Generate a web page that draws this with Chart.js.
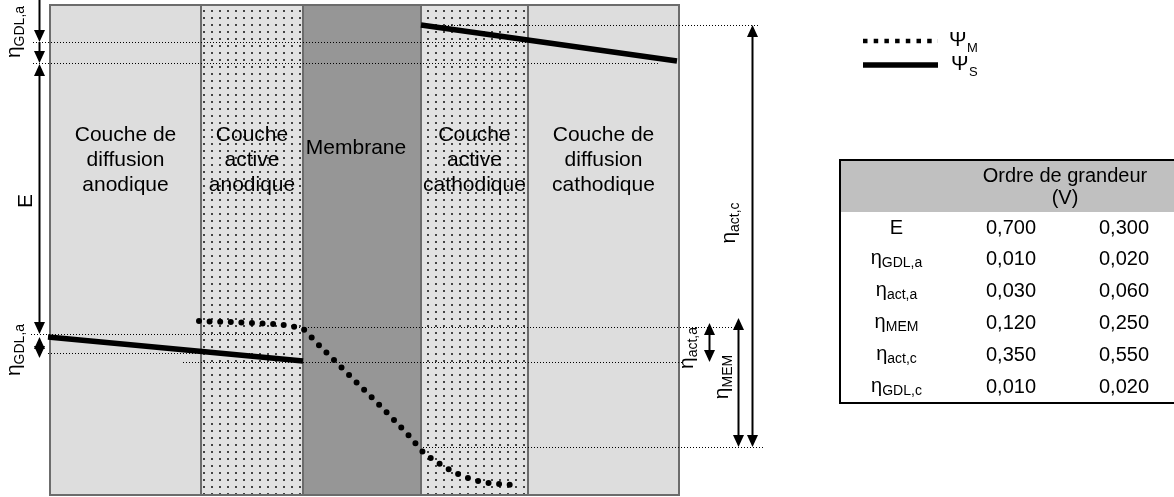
<!DOCTYPE html>
<html>
<head>
<meta charset="utf-8">
<script src="https://cdn.jsdelivr.net/npm/chart.js@4.4.1/dist/chart.umd.min.js"></script>
<style>
body { margin: 0; background: #fff; font-family: "Liberation Sans", Arial, sans-serif; }
#wrap { position: relative; width: 1174px; height: 497px; overflow: hidden; }
#c { position: absolute; left: 0; top: 0; }
#tbl { position: absolute; left: 839px; top: 159px; border-collapse: collapse; border: 2px solid #000; border-right: none; font-size: 20px; table-layout: fixed; width: 338px; }
#tbl td { padding: 0; text-align: center; height: 30px; line-height: 30px; white-space: nowrap; }
#tbl tr.head td { background: #c0c0c0; height: 48px; line-height: 22px; vertical-align: top; padding-top: 3px; }
#tbl .s { font-size: 14px; position: relative; top: 3px; }
</style>
</head>
<body>
<div id="wrap">
  <canvas id="c" width="1174" height="497"></canvas>
  <table id="tbl">
    <colgroup><col style="width:112px"><col style="width:118px"><col style="width:108px"></colgroup>
    <tbody id="tb"></tbody>
  </table>
</div>
<script>
// Couches de la cellule (position le long de l'épaisseur, unités arbitraires)
const layerBounds = [0, 151, 253, 371, 478, 629];
const layerKinds = ['gdl', 'act', 'mem', 'act', 'gdl'];
const layerLabels = [
    ['Couche de', 'diffusion', 'anodique'],
    ['Couche', 'active', 'anodique'],
    ['Membrane'],
    ['Couche', 'active', 'cathodique'],
    ['Couche de', 'diffusion', 'cathodique']
];

// Potentiel électronique Psi_S (anode puis cathode)
const psiSAnodeX = [-2, 253];
const psiSAnodeY = [158, 134];
const psiSCathodeX = [371, 627];
const psiSCathodeY = [470, 434];

// Potentiel ionique Psi_M
const psiMX = [149, 202, 234, 245, 256, 263, 286, 361, 372, 390, 408, 428, 449, 470];
const psiMY = [174, 172, 170, 168, 164, 156, 133, 57, 44, 31, 21, 14, 11, 10];

// Niveaux de potentiel repérés (lignes pointillées)
const guideY  = [470, 453, 432, 168, 161, 142, 133, 48];
const guideX0 = [371, -17, -17, 243, -19, -2, 133, 373];
const guideX1 = [710, 477, 608, 687, 243, 200, 632, 715];

// Flèches des surtensions : x, début, fin, têtes
const arrowX    = [-11, -11, -11, -11, 702, 688, 659];
const arrowFrom = [495, 453, 431, 158, 470, 177, 172];
const arrowTo   = [453, 432, 161, 137, 48, 48, 133];
const arrowHead = ['end', 'end', 'both', 'both', 'both', 'both', 'both'];

// Étiquettes verticales
const tagMain = ['η', 'E', 'η', 'η', 'η', 'η'];
const tagSub  = ['GDL,a', '', 'GDL,a', 'act,c', 'MEM', 'act,a'];
const tagX    = [-30, -18, -30, 685, 678, 643];
const tagY    = [463, 294, 145, 272, 118, 147];

// Tableau des ordres de grandeur
const rowMain = ['E', 'η', 'η', 'η', 'η', 'η'];
const rowSub  = ['', 'GDL,a', 'act,a', 'MEM', 'act,c', 'GDL,c'];
const valLow  = [0.700, 0.010, 0.030, 0.120, 0.350, 0.010];
const valHigh = [0.300, 0.020, 0.060, 0.250, 0.550, 0.020];

const fmt = v => v.toFixed(3).replace('.', ',');
let html = '<tr class="head"><td></td><td colspan="2">Ordre de grandeur<br>(V)</td></tr>';
rowMain.forEach((m, i) => {
    html += '<tr><td>' + m + (rowSub[i] ? '<span class="s">' + rowSub[i] + '</span>' : '') +
        '</td><td>' + fmt(valLow[i]) + '</td><td>' + fmt(valHigh[i]) + '</td></tr>';
});
document.getElementById('tb').innerHTML = html;

const FONT = '"Liberation Sans", Arial, sans-serif';

function stipple(ctx) {
    const p = document.createElement('canvas');
    p.width = 8; p.height = 7;
    const g = p.getContext('2d');
    g.fillStyle = '#e2e2e2';
    g.fillRect(0, 0, 8, 7);
    g.fillStyle = '#444';
    g.fillRect(3, 3, 2, 2);
    return ctx.createPattern(p, 'repeat');
}

function drawArrow(ctx, x, y0, y1, heads) {
    const dir = y1 > y0 ? 1 : -1, L = 12, W = 5.5;
    ctx.beginPath();
    ctx.moveTo(x, heads === 'both' ? y0 + dir * L : y0);
    ctx.lineTo(x, y1 - dir * L);
    ctx.lineWidth = 2;
    ctx.strokeStyle = '#000';
    ctx.stroke();
    const tip = (ty, d) => {
        ctx.beginPath();
        ctx.moveTo(x, ty);
        ctx.lineTo(x - W, ty - d * L);
        ctx.lineTo(x + W, ty - d * L);
        ctx.closePath();
        ctx.fill();
    };
    ctx.fillStyle = '#000';
    tip(y1, dir);
    if (heads === 'both') tip(y0, -dir);
}

function subText(ctx, main, sub, x, y, size, subSize, drop) {
    ctx.font = size + 'px ' + FONT;
    const wm = ctx.measureText(main).width;
    ctx.font = subSize + 'px ' + FONT;
    const ws = sub ? ctx.measureText(sub).width : 0;
    const start = x - (wm + ws) / 2;
    ctx.font = size + 'px ' + FONT;
    ctx.fillText(main, start, y);
    if (sub) {
        ctx.font = subSize + 'px ' + FONT;
        ctx.fillText(sub, start + wm, y + drop);
    }
}

const cellPlugin = {
    id: 'cell',
    beforeDatasetsDraw(chart) {
        const { ctx, scales: { x, y }, chartArea: a } = chart;
        ctx.save();
        const pat = stipple(ctx);
        layerKinds.forEach((k, i) => {
            const x0 = x.getPixelForValue(layerBounds[i]);
            const x1 = x.getPixelForValue(layerBounds[i + 1]);
            ctx.fillStyle = k === 'gdl' ? '#dddddd' : k === 'mem' ? '#969696' : pat;
            ctx.fillRect(x0, a.top, x1 - x0, a.bottom - a.top);
        });
        ctx.strokeStyle = '#6c6c6c';
        ctx.lineWidth = 2;
        layerKinds.forEach((k, i) => {
            const x0 = x.getPixelForValue(layerBounds[i]);
            const x1 = x.getPixelForValue(layerBounds[i + 1]);
            ctx.strokeRect(x0, a.top, x1 - x0, a.bottom - a.top);
        });
        // noms des couches
        ctx.fillStyle = '#000';
        ctx.font = '21px ' + FONT;
        ctx.textAlign = 'center';
        ctx.textBaseline = 'middle';
        layerLabels.forEach((lines, i) => {
            let cx = x.getPixelForValue((layerBounds[i] + layerBounds[i + 1]) / 2);
            if (lines.length === 1) cx -= 6;
            const top = lines.length === 1 ? 347 : 360;
            lines.forEach((t, j) => ctx.fillText(t, cx, y.getPixelForValue(top - 25 * j)));
        });
        // niveaux pointillés
        ctx.strokeStyle = '#000';
        ctx.lineWidth = 1;
        ctx.setLineDash([1, 2]);
        guideY.forEach((v, i) => {
            const py = Math.round(y.getPixelForValue(v)) + 0.5;
            ctx.beginPath();
            ctx.moveTo(Math.round(x.getPixelForValue(guideX0[i])), py);
            ctx.lineTo(Math.round(x.getPixelForValue(guideX1[i])), py);
            ctx.stroke();
        });
        ctx.restore();
    },
    afterDatasetsDraw(chart) {
        const { ctx, scales: { x, y } } = chart;
        ctx.save();
        arrowX.forEach((v, i) => {
            drawArrow(ctx, Math.round(x.getPixelForValue(v)) + 0.5,
                y.getPixelForValue(arrowFrom[i]), y.getPixelForValue(arrowTo[i]), arrowHead[i]);
        });
        ctx.fillStyle = '#000';
        ctx.textAlign = 'left';
        ctx.textBaseline = 'alphabetic';
        tagMain.forEach((m, i) => {
            ctx.save();
            ctx.translate(x.getPixelForValue(tagX[i]), y.getPixelForValue(tagY[i]));
            ctx.rotate(-Math.PI / 2);
            subText(ctx, m, tagSub[i], 0, 0, 21, 14, 4);
            ctx.restore();
        });
        // légende
        const ds = chart.data.datasets;
        const items = [ds[0], ds[1]];
        const subs = ['M', 'S'];
        items.forEach((d, i) => {
            const ly = 41 + 24 * i;
            ctx.beginPath();
            ctx.moveTo(863, ly);
            ctx.lineTo(938, ly);
            ctx.strokeStyle = d.borderColor;
            ctx.lineWidth = i === 0 ? 4.5 : 5.5;
            ctx.setLineDash(i === 0 ? [4.5, 6.2] : []);
            ctx.lineCap = 'butt';
            ctx.stroke();
            ctx.setLineDash([]);
            ctx.font = '21px ' + FONT;
            ctx.fillText('Ψ', 949 + 2 * i, ly + 5);
            ctx.font = '13px ' + FONT;
            ctx.fillText(subs[i], 967 + 2 * i, ly + 11);
        });
        ctx.restore();
    }
};

const pts = (xs, ys) => xs.map((v, i) => ({ x: v, y: ys[i] }));

new Chart(document.getElementById('c'), {
    type: 'line',
    data: {
        datasets: [{
            label: 'ΨM',
            data: pts(psiMX, psiMY),
            borderColor: '#000',
            borderWidth: 6,
            borderDash: [0, 10.6],
            borderCapStyle: 'round',
            cubicInterpolationMode: 'monotone',
            pointRadius: 0,
            clip: false
        }, {
            label: 'ΨS',
            data: pts(psiSAnodeX, psiSAnodeY),
            borderColor: '#000',
            borderWidth: 5.5,
            pointRadius: 0,
            clip: false
        }, {
            label: 'ΨS cathode',
            data: pts(psiSCathodeX, psiSCathodeY),
            borderColor: '#000',
            borderWidth: 5.5,
            pointRadius: 0,
            clip: false
        }]
    },
    options: {
        responsive: false,
        animation: false,
        devicePixelRatio: 1,
        layout: { padding: { left: 50, top: 5, right: 495, bottom: 2 } },
        scales: {
            x: { type: 'linear', min: 0, max: 629, display: false },
            y: { type: 'linear', min: 0, max: 490, display: false }
        },
        plugins: { legend: { display: false }, tooltip: { enabled: false } }
    },
    plugins: [cellPlugin]
});
</script>
</body>
</html>
